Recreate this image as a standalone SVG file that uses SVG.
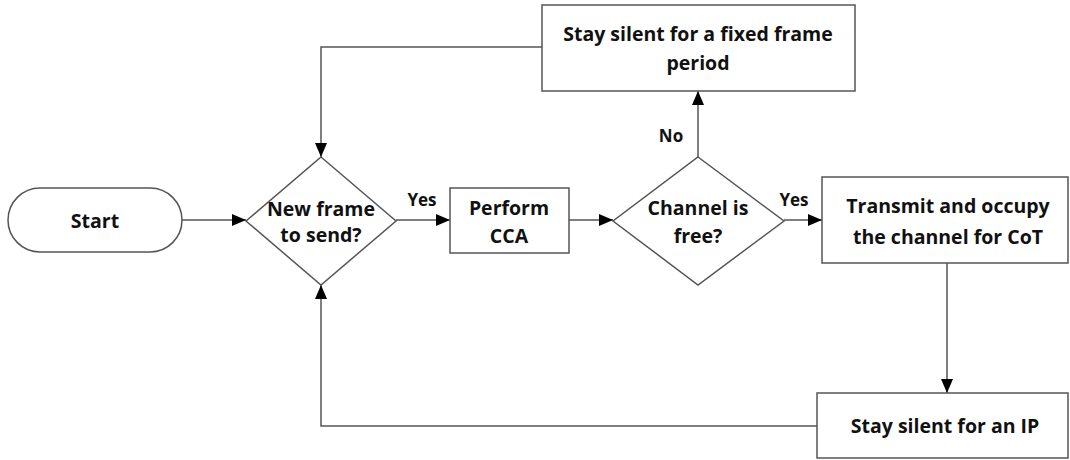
<svg xmlns="http://www.w3.org/2000/svg" width="1070" height="460" viewBox="0 0 1070 460">
<defs>
<marker id="arr" viewBox="0 0 14 12" refX="14" refY="6" markerWidth="14" markerHeight="12" markerUnits="userSpaceOnUse" orient="auto">
<path d="M0,0 L14,6 L0,12 Z" fill="#000"/>
</marker>
<style>
.shape{fill:#fff;stroke:#555;stroke-width:1.5}
.conn{fill:none;stroke:#555;stroke-width:1.5}
.t{font-family:"Open Sans","Liberation Sans",sans-serif;font-weight:bold;font-size:19.5px;fill:#111;text-anchor:middle;dominant-baseline:central}
.lbl{font-family:"Open Sans","Liberation Sans",sans-serif;font-weight:bold;font-size:17px;fill:#111;text-anchor:middle;dominant-baseline:central}
</style>
</defs>
<rect width="1070" height="460" fill="#fff"/>
<g id="connectors">
<path class="conn" d="M182,220 L246,220" marker-end="url(#arr)"/>
<path class="conn" d="M396,220 L450,220" marker-end="url(#arr)"/>
<path class="conn" d="M569,220 L613,220" marker-end="url(#arr)"/>
<path class="conn" d="M784,220 L822,220" marker-end="url(#arr)"/>
<path class="conn" d="M698,157 L698,91" marker-end="url(#arr)"/>
<path class="conn" d="M542,47 L321,47 L321,157" marker-end="url(#arr)"/>
<path class="conn" d="M947,263 L947,393" marker-end="url(#arr)"/>
<path class="conn" d="M817,426 L321,426 L321,285" marker-end="url(#arr)"/>
<text class="lbl" x="422" y="199">Yes</text>
<text class="lbl" x="794" y="199">Yes</text>
<text class="lbl" x="671" y="135">No</text>
</g>
<g id="start">
<rect class="shape" x="8" y="188" width="174" height="64" rx="32" ry="32"/>
<text class="t" x="95" y="220">Start</text>
</g>
<g id="newframe">
<polygon class="shape" points="321,157 396,221 321,285 246,221"/>
<text class="t" x="321" y="208">New frame</text>
<text class="t" x="321" y="234">to send?</text>
</g>
<g id="cca">
<rect class="shape" x="450" y="188" width="119" height="65"/>
<text class="t" x="509" y="207">Perform</text>
<text class="t" x="509" y="235">CCA</text>
</g>
<g id="channel">
<polygon class="shape" points="698,157 784,221 698,285 613,221"/>
<text class="t" x="698" y="207">Channel is</text>
<text class="t" x="698" y="235">free?</text>
</g>
<g id="silentframe">
<rect class="shape" x="542" y="5" width="313" height="86"/>
<text class="t" x="698" y="33">Stay silent for a fixed frame</text>
<text class="t" x="698" y="62">period</text>
</g>
<g id="transmit">
<rect class="shape" x="822" y="177" width="246" height="86"/>
<text class="t" x="948" y="205">Transmit and occupy</text>
<text class="t" x="948" y="236">the channel for CoT</text>
</g>
<g id="silentip">
<rect class="shape" x="817" y="393" width="251" height="65"/>
<text class="t" x="945" y="425">Stay silent for an IP</text>
</g>
</svg>
